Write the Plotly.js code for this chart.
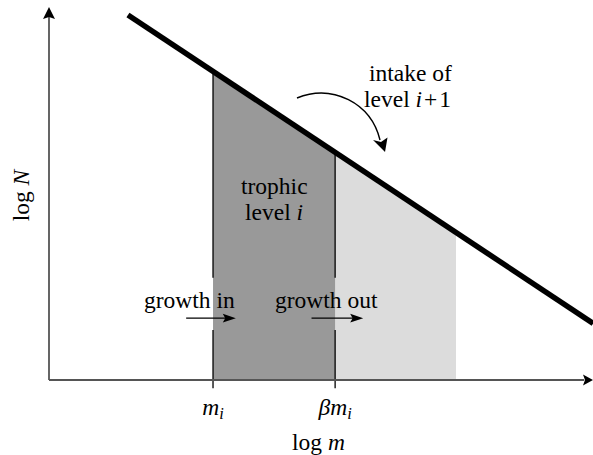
<!DOCTYPE html>
<html><head><meta charset="utf-8">
<script src="https://cdn.plot.ly/plotly-3.0.1.min.js"></script>
<style>html,body{margin:0;padding:0;background:#fff;}#chart{width:593px;height:455px;}</style>
</head><body><div id="chart"></div>
<script>
// ---- data (log m, log N in arbitrary units) ----
const sizeLineLogM = [1.94, 13.37];
const sizeLineLogN = [8.97, 1.39];
const levelIBounds = [4.03, 7.03];      // m_i, beta*m_i
const levelITop = [7.58, 5.59];
const levelNextBounds = [7.03, 10.0];
const levelNextTop = [5.59, 3.62];
const tickVals = [4.03, 7.03];
const tickLabels = ['<i>m</i><sub><i>i</i></sub>', '<i>β</i><i>m</i><sub><i>i</i></sub>'];
const xTitle = 'log <i>m</i>';
const yTitle = 'log <i>N</i>';

// ---- layout constants ----
const FONT = 'Liberation Serif, Times New Roman, serif';
const FS = 23.5;
const GAP_TOP = 2.51, GAP_BOT = 1.23, TICK = 0.2;

function region(b, t, color){
  return {x:[b[0], b[0], b[1], b[1]], y:[0, t[0], t[1], 0], type:'scatter', mode:'lines',
    fill:'toself', fillcolor:color, line:{width:0, color:color}, hoverinfo:'skip', showlegend:false};
}
function divider(xv, top){
  return {x:[xv, xv, null, xv, xv], y:[top, GAP_TOP, null, GAP_BOT, -TICK], type:'scatter', mode:'lines',
    line:{color:'#000', width:1.3}, hoverinfo:'skip', showlegend:false};
}

const traces = [
  region(levelNextBounds, levelNextTop, '#dcdcdc'),
  region(levelIBounds, levelITop, '#999999'),
  divider(levelIBounds[0], levelITop[0]),
  divider(levelIBounds[1], levelITop[1]),
  {x:sizeLineLogM, y:sizeLineLogN, type:'scatter', mode:'lines', line:{color:'#000', width:5.5},
   hoverinfo:'skip', showlegend:false}
];

function txt(x, y, s, angle){
  return {x:x, y:y, xref:'x', yref:'y', text:s, showarrow:false, xanchor:'center', yanchor:'middle',
    textangle:angle || 0, font:{family:FONT, size:FS, color:'#000'}};
}
const annotations = [
  txt(5.54, 4.77, 'trophic'),
  txt(5.53, 4.13, 'level <i>i</i>'),
  txt(8.87, 7.54, 'intake of'),
  txt(8.82, 6.90, 'level <i>i</i>\u200a+\u200a1'),
  txt(3.46, 1.97, 'growth in'),
  txt(6.82, 1.97, 'growth out'),
  txt(6.63, -1.52, xTitle),
  txt(-0.70, 4.55, yTitle, -90)
];

const headFill = {type:'path', fillcolor:'#000', line:{width:0}, xref:'x', yref:'y'};
const shapes = [
  // axes
  {type:'line', xref:'x', yref:'y', x0:0, y0:0, x1:13.15, y1:0, line:{color:'#555', width:1.8}},
  {type:'line', xref:'x', yref:'y', x0:0, y0:0, x1:0, y1:8.95, line:{color:'#555', width:1.8}},
  Object.assign({}, headFill, {path:'M13.366,0 L13.12,0.135 L13.17,0 L13.12,-0.135 Z'}),
  Object.assign({}, headFill, {path:'M0,9.165 L-0.147,8.87 L0,8.92 L0.147,8.87 Z'}),
  // growth arrows
  {type:'line', xref:'x', yref:'y', x0:3.37, y0:1.52, x1:4.35, y1:1.52, line:{color:'#000', width:1.4}},
  Object.assign({}, headFill, {path:'M4.59,1.52 L4.27,1.63 L4.33,1.52 L4.27,1.41 Z'}),
  {type:'line', xref:'x', yref:'y', x0:6.45, y0:1.52, x1:7.48, y1:1.52, line:{color:'#000', width:1.4}},
  Object.assign({}, headFill, {path:'M7.72,1.52 L7.40,1.63 L7.46,1.52 L7.40,1.41 Z'}),
  // curved arrow
  {type:'path', xref:'x', yref:'y', path:'M6.093,6.929 C6.971,7.283 7.906,6.806 8.133,5.897',
   line:{color:'#000', width:1.4}},
  Object.assign({}, headFill, {path:'M8.256,5.602 L7.961,5.897 L8.157,5.848 L8.317,5.958 Z'})
];

const layout = {
  width:593, height:455,
  margin:{l:0, r:0, t:0, b:0},
  paper_bgcolor:'#fff', plot_bgcolor:'#fff',
  showlegend:false,
  font:{family:FONT, size:FS, color:'#000'},
  xaxis:{range:[-1.204, 13.366], anchor:'free', position:0.1648, showgrid:false, zeroline:false,
    showline:false, ticks:'', tickvals:tickVals, ticktext:tickLabels, ticklabelstandoff:10,
    tickfont:{family:FONT, size:FS, color:'#000'}, fixedrange:true},
  yaxis:{range:[-1.843, 9.337], anchor:'free', position:0.0826, showgrid:false, zeroline:false,
    showline:false, ticks:'', showticklabels:false, fixedrange:true},
  annotations:annotations,
  shapes:shapes
};

Plotly.newPlot('chart', traces, layout, {staticPlot:true, displayModeBar:false});
</script>
</body></html>
